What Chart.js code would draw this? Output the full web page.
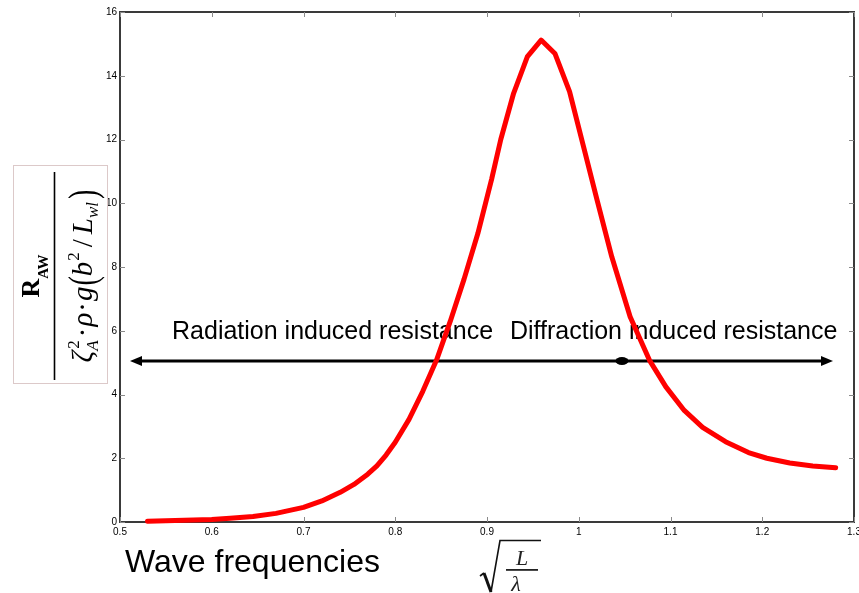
<!DOCTYPE html>
<html><head><meta charset="utf-8">
<script src="https://cdn.jsdelivr.net/npm/chart.js@4"></script>
<style>html,body{margin:0;padding:0;background:#fff;}canvas{display:block;}</style>
</head><body>
<canvas id="c" width="859" height="593"></canvas>
<script>
// ---- data ----
const freqX = [0.53,0.55,0.58,0.60,0.62,0.645,0.67,0.70,0.72,0.74,0.755,0.77,0.78,0.79,0.80,0.815,0.83,0.845,0.86,0.875,0.89,0.905,0.915,0.929,0.944,0.959,0.974,0.99,1.005,1.02,1.036,1.056,1.077,1.095,1.115,1.135,1.16,1.185,1.205,1.23,1.255,1.28];
const resistY = [0.02,0.04,0.06,0.08,0.12,0.17,0.27,0.46,0.66,0.93,1.18,1.50,1.76,2.1,2.5,3.22,4.1,5.08,6.3,7.62,9.05,10.75,12.0,13.45,14.6,15.12,14.7,13.5,11.8,10.1,8.32,6.44,5.08,4.24,3.5,2.97,2.52,2.18,2.0,1.85,1.76,1.70];
const xTicks = [0.5,0.6,0.7,0.8,0.9,1.0,1.1,1.2,1.3];
const yTicks = [0,2,4,6,8,10,12,14,16];
const arrowX = [0.5109, 1.0471, 1.2771];   // left tip, junction, right tip
const arrowY = 5.05;
const noteText = ['Radiation induced resistance','Diffraction induced resistance'];
const noteX = [0.5567, 0.925];
const noteY = 5.74;
const xTitle = 'Wave frequencies';

const SANS = '"Liberation Sans", Arial, sans-serif';
const SERIF = '"Liberation Serif", "Times New Roman", serif';

function drawPieces(ctx, pieces, baseY) {
  let total = 0;
  const widths = pieces.map(p => {
    let w = 0;
    p.parts.forEach(q => { ctx.font = q.font; w = Math.max(w, ctx.measureText(q.t).width); });
    w += (p.gap || 0);
    total += w; return w;
  });
  let x = -total / 2;
  pieces.forEach((p, i) => {
    p.parts.forEach(q => {
      ctx.font = q.font;
      ctx.save();
      ctx.translate(x + (q.dx || 0), baseY + (q.dy || 0));
      if (q.sy) ctx.scale(1, q.sy);
      ctx.fillText(q.t, 0, 0);
      ctx.restore();
    });
    x += widths[i];
  });
  return total;
}

const decor = {
  id: 'decor',
  beforeDatasetsDraw(chart) {
    const {ctx, chartArea: a, scales: {x, y}} = chart;
    ctx.save();
    // annotation texts
    ctx.fillStyle = '#000'; ctx.textAlign = 'left'; ctx.textBaseline = 'alphabetic';
    ctx.font = '25px ' + SANS;
    noteText.forEach((t, i) => ctx.fillText(t, x.getPixelForValue(noteX[i]), y.getPixelForValue(noteY)));
    // arrowheads
    const ay = y.getPixelForValue(arrowY);
    const lx = x.getPixelForValue(arrowX[0]), rx = x.getPixelForValue(arrowX[2]);
    ctx.beginPath(); ctx.moveTo(lx, ay); ctx.lineTo(lx + 12, ay - 5); ctx.lineTo(lx + 12, ay + 5); ctx.closePath(); ctx.fill();
    ctx.beginPath(); ctx.moveTo(rx, ay); ctx.lineTo(rx - 12, ay - 5); ctx.lineTo(rx - 12, ay + 5); ctx.closePath(); ctx.fill();
    const jx = x.getPixelForValue(arrowX[1]);
    ctx.beginPath(); ctx.ellipse(jx, ay, 6.5, 4, 0, 0, Math.PI * 2); ctx.fill();
    // frame
    ctx.strokeStyle = '#3a3a3a'; ctx.lineWidth = 2;
    ctx.strokeRect(a.left, a.top, a.right - a.left, a.bottom - a.top);
    // inward ticks
    ctx.strokeStyle = '#8a8a8a'; ctx.lineWidth = 1;
    ctx.beginPath();
    xTicks.forEach(v => {
      const px = Math.round(x.getPixelForValue(v)) + 0.5;
      ctx.moveTo(px, a.bottom); ctx.lineTo(px, a.bottom - 5);
      ctx.moveTo(px, a.top); ctx.lineTo(px, a.top + 5);
    });
    yTicks.forEach(v => {
      const py = Math.round(y.getPixelForValue(v)) + 0.5;
      ctx.moveTo(a.left, py); ctx.lineTo(a.left + 5, py);
      ctx.moveTo(a.right, py); ctx.lineTo(a.right - 5, py);
    });
    ctx.stroke();
    ctx.restore();
  },
  afterDraw(chart) {
    const ctx = chart.ctx;
    ctx.save();
    // y-axis title box (formula)
    ctx.fillStyle = '#fff'; ctx.fillRect(13, 165, 94, 218);
    ctx.strokeStyle = '#dcc9c9'; ctx.lineWidth = 1; ctx.strokeRect(13.5, 165.5, 94, 218);
    ctx.translate(54.5, 276); ctx.rotate(-Math.PI / 2);
    ctx.fillStyle = '#000'; ctx.textBaseline = 'alphabetic'; ctx.textAlign = 'left';
    // numerator
    drawPieces(ctx, [
      {parts: [{t: 'R', font: 'bold 26px ' + SERIF}]},
      {parts: [{t: 'AW', font: 'bold 15px ' + SERIF, dy: 9}]}
    ], -16);
    // fraction bar
    ctx.fillRect(-104, -0.8, 208, 1.6);
    // denominator
    const I = 'italic 29px ' + SERIF, S = 'italic 17px ' + SERIF, N = '29px ' + SERIF, P = '28px ' + SERIF;
    drawPieces(ctx, [
      {parts: [{t: 'ζ', font: I}]},
      {parts: [{t: '2', font: '17px ' + SERIF, dy: -13, dx: 2}, {t: 'A', font: S, dy: 6}], gap: 3},
      {parts: [{t: '·', font: N}], gap: 1},
      {parts: [{t: 'ρ', font: I}], gap: 1},
      {parts: [{t: '·', font: N}], gap: 1},
      {parts: [{t: 'g', font: I}], gap: 1},
      {parts: [{t: '(', font: P, dy: 4, sy: 1.45}]},
      {parts: [{t: 'b', font: I}], gap: 1},
      {parts: [{t: '2', font: '17px ' + SERIF, dy: -13}], gap: 5},
      {parts: [{t: '/', font: N}], gap: 5},
      {parts: [{t: 'L', font: I}]},
      {parts: [{t: 'wl', font: S, dy: 6}], gap: 3},
      {parts: [{t: ')', font: P, dy: 4, sy: 1.45}]}
    ], 37);
    ctx.restore();

    // x-axis titles
    ctx.save();
    ctx.fillStyle = '#000'; ctx.textAlign = 'left'; ctx.textBaseline = 'alphabetic';
    ctx.font = '32px ' + SANS;
    ctx.fillText(xTitle, 125, 572);
    // sqrt(L / lambda)
    ctx.strokeStyle = '#111'; ctx.lineJoin = 'miter';
    ctx.lineWidth = 1.6;
    ctx.beginPath(); ctx.moveTo(480, 576); ctx.lineTo(484, 573); ctx.stroke();
    ctx.lineWidth = 3;
    ctx.beginPath(); ctx.moveTo(484, 573); ctx.lineTo(491, 592); ctx.stroke();
    ctx.lineWidth = 1.6;
    ctx.beginPath(); ctx.moveTo(491, 592); ctx.lineTo(500, 540.5); ctx.lineTo(541, 540.5); ctx.stroke();
    ctx.fillStyle = '#222';
    ctx.fillRect(506, 569, 32, 1.8);
    ctx.textAlign = 'center';
    ctx.font = 'italic 22px ' + SERIF;
    ctx.fillText('L', 522, 565);
    ctx.fillText('λ', 516, 591);
    ctx.restore();
  }
};

new Chart(document.getElementById('c'), {
  type: 'scatter',
  data: {
    datasets: [
      {
        data: freqX.map((v, i) => ({x: v, y: resistY[i]})),
        showLine: true, borderColor: '#ff0000', borderWidth: 5, pointRadius: 0,
        tension: 0, borderJoinStyle: 'round', borderCapStyle: 'round', clip: false
      },
      {
        data: [{x: arrowX[0] + 0.01, y: arrowY}, {x: arrowX[2] - 0.01, y: arrowY}],
        showLine: true, borderColor: '#000', borderWidth: 3, pointRadius: 0, clip: false
      }
    ]
  },
  options: {
    responsive: false, animation: false, devicePixelRatio: 1,
    layout: {padding: {left: 95, right: 5, top: 12, bottom: 51}},
    plugins: {legend: {display: false}, tooltip: {enabled: false}},
    scales: {
      x: {
        type: 'linear', min: 0.5, max: 1.3,
        afterBuildTicks: s => { s.ticks = xTicks.map(v => ({value: v})); },
        afterFit: s => { s.height = 20; s.paddingLeft = 0; s.paddingRight = 0; },
        ticks: {callback: v => String(+Number(v).toFixed(1)), font: {family: SANS, size: 10}, color: '#000', padding: 4, maxRotation: 0, autoSkip: false},
        grid: {display: false, drawTicks: false}, border: {display: false}
      },
      y: {
        type: 'linear', min: 0, max: 16,
        afterBuildTicks: s => { s.ticks = yTicks.map(v => ({value: v})); },
        afterFit: s => { s.width = 25; s.paddingTop = 0; s.paddingBottom = 0; },
        ticks: {callback: v => String(v), font: {family: SANS, size: 10}, color: '#000', padding: 3, autoSkip: false},
        grid: {display: false, drawTicks: false}, border: {display: false}
      }
    }
  },
  plugins: [decor]
});
</script>
</body></html>
